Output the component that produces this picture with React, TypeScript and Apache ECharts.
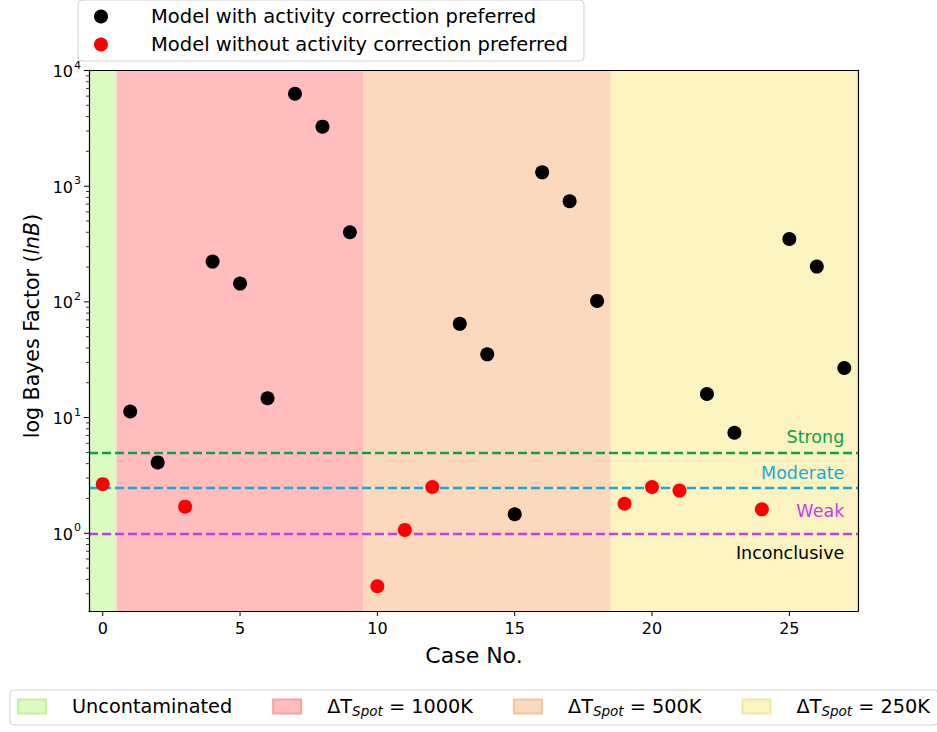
import React, { useEffect, useRef } from "react";
import * as echarts from "echarts";

// ---- data ----
const casesWith = [1, 2, 4, 5, 6, 7, 8, 9, 13, 14, 15, 16, 17, 18, 22, 23, 25, 26, 27];
const bayesWith = [11.3, 4.1, 223, 144, 14.7, 6300, 3270, 400, 64.6, 35.2, 1.46, 1318, 742, 102, 16.0, 7.39, 350, 202, 26.8];
const casesWithout = [0, 3, 10, 11, 12, 19, 20, 21, 24];
const bayesWithout = [2.66, 1.7, 0.349, 1.07, 2.51, 1.8, 2.51, 2.34, 1.61];

const spanNames = ["Uncontaminated", "ΔT1000", "ΔT500", "ΔT250"];
const spanLabels = ["Uncontaminated", "ΔT{sub|Spot} = 1000K", "ΔT{sub|Spot} = 500K", "ΔT{sub|Spot} = 250K"];
const spanStarts = [-0.5, 0.5, 9.5, 18.5];
const spanEnds = [0.5, 9.5, 18.5, 27.5];
const spanFill = ["#dcfbc0", "#ffbdbd", "#fcd9bc", "#fbf4c0"];
const spanEdge = ["#c4f29c", "#f5a3a3", "#f2c4a0", "#f2e7a2"];

const thresholdValues = [5, 2.5, 1];
const thresholdColors = ["#10a048", "#1aa8dc", "#bf3ff0"];
const annotationTexts = ["Strong", "Moderate", "Weak", "Inconclusive"];
const annotationX = [27, 27, 27, 27];
const annotationY = [6.8, 3.35, 1.57, 0.67];
const annotationColors = ["#10a048", "#1aa8dc", "#bf3ff0", "#000000"];

const xTicks = [0, 5, 10, 15, 20, 25];
const yMajorTicks = [1, 10, 100, 1000, 10000];
const yMinorTicks = [
  0.3, 0.4, 0.5, 0.6, 0.7, 0.8, 0.9,
  2, 3, 4, 5, 6, 7, 8, 9,
  20, 30, 40, 50, 60, 70, 80, 90,
  200, 300, 400, 500, 600, 700, 800, 900,
  2000, 3000, 4000, 5000, 6000, 7000, 8000, 9000,
];

const X_MIN = -0.5;
const X_MAX = 27.5;
const Y_MIN = 0.213;
const Y_MAX = 10100;

const FONT = "DejaVu Sans";

export default function App() {
  const ref = useRef<HTMLDivElement>(null);

  useEffect(() => {
    if (!ref.current) return;
    const chart = echarts.init(ref.current, null, { renderer: "svg" });

    const spanSeries = spanNames.map((name, i) => ({
      name,
      type: "scatter",
      data: [],
      z: 1,
      itemStyle: { color: spanFill[i], borderColor: spanEdge[i], borderWidth: 1, opacity: 1 },
      markArea: {
        silent: true,
        itemStyle: { color: spanFill[i], borderWidth: 0, opacity: 1 },
        data: [[{ xAxis: spanStarts[i] }, { xAxis: spanEnds[i] }]],
      },
    }));

    const thresholdSeries = {
      name: "thresholds",
      type: "scatter",
      data: [],
      z: 2,
      markLine: {
        silent: true,
        symbol: "none",
        label: { show: false },
        data: thresholdValues.map((v, i) => ({
          yAxis: v,
          lineStyle: { color: thresholdColors[i], width: 2.4, type: [9, 4], opacity: 1 },
        })),
      },
    };

    const annotationSeries = {
      name: "annotations",
      type: "custom",
      z: 3,
      clip: false,
      silent: true,
      data: annotationTexts.map((t, i) => [annotationX[i], annotationY[i], i]),
      renderItem: (params: any, api: any) => {
        const idx = api.value(2);
        const p = api.coord([api.value(0), api.value(1)]);
        return {
          type: "text",
          x: p[0],
          y: p[1],
          style: {
            text: annotationTexts[idx],
            fill: annotationColors[idx],
            fontSize: 17.5,
            fontFamily: FONT,
            align: "right",
            verticalAlign: "middle",
          },
        };
      },
    };

    const yTickSeries = {
      name: "yticks",
      type: "custom",
      z: 20,
      clip: false,
      silent: true,
      data: [
        ...yMajorTicks.map((v) => [X_MIN, v, 1]),
        ...yMinorTicks.map((v) => [X_MIN, v, 0]),
      ],
      renderItem: (params: any, api: any) => {
        const v = api.value(1);
        const major = api.value(2) === 1;
        const p = api.coord([X_MIN, v]);
        const len = major ? 5 : 3;
        const children: any[] = [
          {
            type: "line",
            shape: { x1: p[0] - len, y1: p[1], x2: p[0], y2: p[1] },
            style: { stroke: "#000", lineWidth: major ? 1 : 0.8 },
          },
        ];
        if (major) {
          const exp = Math.round(Math.log10(v));
          children.push({
            type: "text",
            x: p[0] - 8,
            y: p[1],
            style: {
              text: "{b|10}{s|" + exp + "}",
              align: "right",
              verticalAlign: "middle",
              rich: {
                b: { fontSize: 16, fontFamily: FONT, fill: "#000", verticalAlign: "bottom", lineHeight: 18 },
                s: { fontSize: 11, fontFamily: FONT, fill: "#000", verticalAlign: "bottom", lineHeight: 11, padding: [0, 0, 9, 1] },
              },
            },
          });
        }
        return { type: "group", children };
      },
    };

    const xTickSeries = {
      name: "xticks",
      type: "custom",
      z: 20,
      clip: false,
      silent: true,
      data: xTicks.map((v) => [v, Y_MIN]),
      renderItem: (params: any, api: any) => {
        const v = api.value(0);
        const p = api.coord([v, Y_MIN]);
        return {
          type: "group",
          children: [
            {
              type: "line",
              shape: { x1: p[0], y1: p[1], x2: p[0], y2: p[1] + 5 },
              style: { stroke: "#000", lineWidth: 1 },
            },
            {
              type: "text",
              x: p[0],
              y: p[1] + 9,
              style: {
                text: String(v),
                fontSize: 16,
                fontFamily: FONT,
                fill: "#000",
                align: "center",
                verticalAlign: "top",
              },
            },
          ],
        };
      },
    };

    const option: any = {
      animation: false,
      backgroundColor: "#ffffff",
      textStyle: { fontFamily: FONT },
      grid: { left: 89, right: 79, top: 70, bottom: 121, containLabel: false },
      graphic: [
        {
          type: "text",
          x: 32,
          y: 326,
          rotation: Math.PI / 2,
          style: {
            text: "{n|log Bayes Factor (}{i|lnB}{n|)}",
            align: "center",
            verticalAlign: "middle",
            rich: {
              n: { fontSize: 20.5, fontFamily: FONT, fill: "#000" },
              i: { fontSize: 20.5, fontFamily: FONT, fill: "#000", fontStyle: "italic" },
            },
          },
        },
        {
          type: "text",
          x: 474,
          y: 655,
          style: {
            text: "Case No.",
            fontSize: 22,
            fontFamily: FONT,
            fill: "#000",
            align: "center",
            verticalAlign: "middle",
          },
        },
      ],
      xAxis: [
        {
          type: "value",
          min: X_MIN,
          max: X_MAX,
          z: 10,
          axisLine: { show: true, onZero: false, lineStyle: { color: "#000", width: 1.2 } },
          axisTick: { show: false },
          axisLabel: { show: false },
          splitLine: { show: false },
        },
        {
          type: "value",
          position: "top",
          min: X_MIN,
          max: X_MAX,
          z: 10,
          axisLine: { show: true, onZero: false, lineStyle: { color: "#000", width: 1.2 } },
          axisTick: { show: false },
          axisLabel: { show: false },
          splitLine: { show: false },
        },
      ],
      yAxis: [
        {
          type: "log",
          logBase: 10,
          min: Y_MIN,
          max: Y_MAX,
          z: 10,
          axisLine: { show: true, onZero: false, lineStyle: { color: "#000", width: 1.2 } },
          axisTick: { show: false },
          axisLabel: { show: false },
          splitLine: { show: false },
        },
        {
          type: "log",
          logBase: 10,
          position: "right",
          min: Y_MIN,
          max: Y_MAX,
          z: 10,
          axisLine: { show: true, onZero: false, lineStyle: { color: "#000", width: 1.2 } },
          axisTick: { show: false },
          axisLabel: { show: false },
          splitLine: { show: false },
        },
      ],
      legend: [
        {
          orient: "vertical",
          left: 78,
          top: 0,
          padding: [6, 16, 6, 16],
          itemGap: 7,
          itemWidth: 14,
          itemHeight: 14,
          borderColor: "#d0d0d0",
          borderWidth: 1,
          borderRadius: 4,
          backgroundColor: "rgba(255,255,255,0.85)",
          selectedMode: false,
          data: [
            { name: "Model with activity correction preferred", icon: "circle" },
            { name: "Model without activity correction preferred", icon: "circle" },
          ],
          textStyle: { fontSize: 19.5, fontFamily: FONT, color: "#000", lineHeight: 21, padding: [0, 0, 0, 38] },
        },
        {
          orient: "horizontal",
          left: 10,
          top: 690,
          width: 920,
          padding: [7, 8, 7, 7],
          itemGap: 40,
          itemWidth: 28,
          itemHeight: 14,
          borderColor: "#d0d0d0",
          borderWidth: 1,
          borderRadius: 4,
          selectedMode: false,
          data: spanNames.map((n) => ({ name: n, icon: "rect" })),
          formatter: (name: string) => spanLabels[spanNames.indexOf(name)],
          textStyle: {
            fontSize: 19.3,
            fontFamily: FONT,
            color: "#000",
            padding: [0, 0, 0, 21],
            rich: {
              sub: { fontSize: 13.5, fontFamily: FONT, fontStyle: "italic", color: "#000", padding: [9, 0, 0, 0] },
            },
          },
        },
      ],
      series: [
        ...spanSeries,
        thresholdSeries,
        annotationSeries,
        {
          name: "Model with activity correction preferred",
          type: "scatter",
          z: 5,
          symbol: "circle",
          symbolSize: 14,
          itemStyle: { color: "#000000", opacity: 1 },
          data: casesWith.map((c, i) => [c, bayesWith[i]]),
        },
        {
          name: "Model without activity correction preferred",
          type: "scatter",
          z: 5,
          symbol: "circle",
          symbolSize: 14,
          itemStyle: { color: "#ff0000", opacity: 1 },
          data: casesWithout.map((c, i) => [c, bayesWithout[i]]),
        },
        yTickSeries,
        xTickSeries,
      ],
    };

    chart.setOption(option);
    return () => chart.dispose();
  }, []);

  return (
    <div
      ref={ref}
      style={{ position: "absolute", left: 0, top: 0, width: 937, height: 732 }}
    />
  );
}
